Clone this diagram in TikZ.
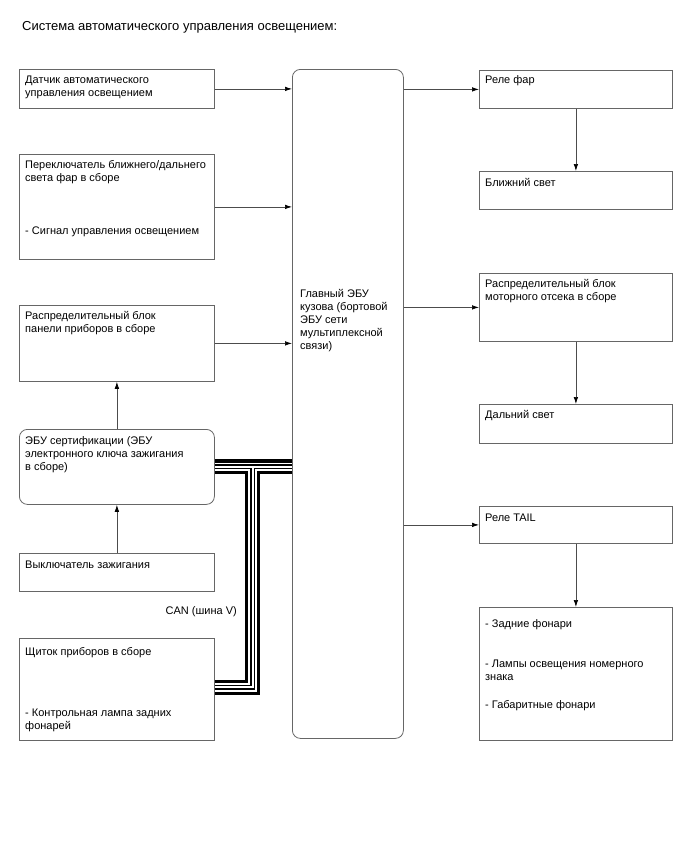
\documentclass[tikz,border=0pt]{standalone}
\usepackage{fontspec}
\setmainfont{Liberation Sans}
\usetikzlibrary{arrows.meta}
\begin{document}
\begin{tikzpicture}[x=1pt,y=-1pt,
  every node/.style={font=\fontsize{11}{13}\selectfont},
  blk/.style={draw=black!60,line width=0.8pt,anchor=north west,inner sep=0pt},
  rblk/.style={blk,rounded corners=8pt},
  txt/.style={anchor=north west,align=left,inner sep=0pt},
  arr/.style={draw=black!70,line width=0.7pt,-{Latex[length=7pt,width=4.5pt,color=black]}}]
\useasboundingbox (0,0) rectangle (688,852);

\node[anchor=west,inner sep=0pt,font=\fontsize{13}{15}\selectfont] (title) at (22,27) {Система автоматического управления освещением:};

\node[blk,minimum width=195pt,minimum height=39pt] (sens) at (19,69) {};
\node[blk,minimum width=195pt,minimum height=105pt] (sw) at (19,154) {};
\node[blk,minimum width=195pt,minimum height=76pt] (ipjb) at (19,305) {};
\node[rblk,minimum width=195pt,minimum height=75pt] (cert) at (19,429) {};
\node[blk,minimum width=195pt,minimum height=38pt] (ig) at (19,553) {};
\node[blk,minimum width=195pt,minimum height=102pt] (clu) at (19,638) {};
\node[rblk,minimum width=111pt,minimum height=669pt] (ecu) at (292,69) {};
\node[blk,minimum width=193pt,minimum height=38pt] (hrel) at (479,70) {};
\node[blk,minimum width=193pt,minimum height=38pt] (lo) at (479,171) {};
\node[blk,minimum width=193pt,minimum height=68pt] (ejb) at (479,273) {};
\node[blk,minimum width=193pt,minimum height=39pt] (hi) at (479,404) {};
\node[blk,minimum width=193pt,minimum height=37pt] (tail) at (479,506) {};
\node[blk,minimum width=193pt,minimum height=133pt] (lamps) at (479,607) {};

\node[txt] (senst) at ([shift={(6,6.5)}]sens.north west) {Датчик автоматического\\управления освещением};
\node[txt] (swt) at ([shift={(6,6.5)}]sw.north west) {Переключатель ближнего/дальнего\\света фар в сборе\\[40pt]- Сигнал управления освещением};
\node[txt] (ipjbt) at ([shift={(6,6.5)}]ipjb.north west) {Распределительный блок\\панели приборов в сборе};
\node[txt] (certt) at ([shift={(6,7.5)}]cert.north west) {ЭБУ сертификации (ЭБУ\\электронного ключа зажигания\\в сборе)};
\node[txt] (igt) at ([shift={(6,7.5)}]ig.north west) {Выключатель зажигания};
\node[txt] (clut) at ([shift={(6,9.5)}]clu.north west) {Щиток приборов в сборе\\[48pt]- Контрольная лампа задних\\фонарей};
\node[txt] (ecut) at ([shift={(8,220.5)}]ecu.north west) {Главный ЭБУ\\кузова (бортовой\\ЭБУ сети\\мультиплексной\\связи)};
\node[txt] (hrelt) at ([shift={(6,5.5)}]hrel.north west) {Реле фар};
\node[txt] (lot) at ([shift={(6,7.5)}]lo.north west) {Ближний свет};
\node[txt] (ejbt) at ([shift={(6,6.5)}]ejb.north west) {Распределительный блок\\моторного отсека в сборе};
\node[txt] (hit) at ([shift={(6,6.5)}]hi.north west) {Дальний свет};
\node[txt] (tailt) at ([shift={(6,7.5)}]tail.north west) {Реле TAIL};
\node[txt] (lampst) at ([shift={(6,12.5)}]lamps.north west) {- Задние фонари\\[27pt]- Лампы освещения номерного\\знака\\[15pt]- Габаритные фонари};
\node[anchor=east,inner sep=0pt] (canlbl) at (237,612) {CAN (шина V)};

\draw[arr] (sens.east) -- (ecu.west |- sens.east);
\draw[arr] (sw.east) -- (ecu.west |- sw.east);
\draw[arr] (ipjb.east) -- (ecu.west |- ipjb.east);
\draw[arr] (cert.north) -- (ipjb.south);
\draw[arr] (ig.north) -- (cert.south);
\draw[arr] (ecu.east |- hrel.west) -- (hrel.west);
\draw[arr] (ecu.east |- ejb.west) -- (ejb.west);
\draw[arr] (ecu.east |- tail.west) -- (tail.west);
\draw[arr] (hrel.south) -- (lo.north);
\draw[arr] (ejb.south) -- (hi.north);
\draw[arr] (tail.south) -- (lamps.north);

\coordinate (tee) at (252.5,467);
\foreach \w/\c in {15/black,8.5/white,5/black,2/white}
  \draw[line width=\w pt,\c] (cert.east) -- (ecu.west |- cert.east) (cert.east -| tee) |- ([yshift=2pt]clu.east);
\end{tikzpicture}
\end{document}
